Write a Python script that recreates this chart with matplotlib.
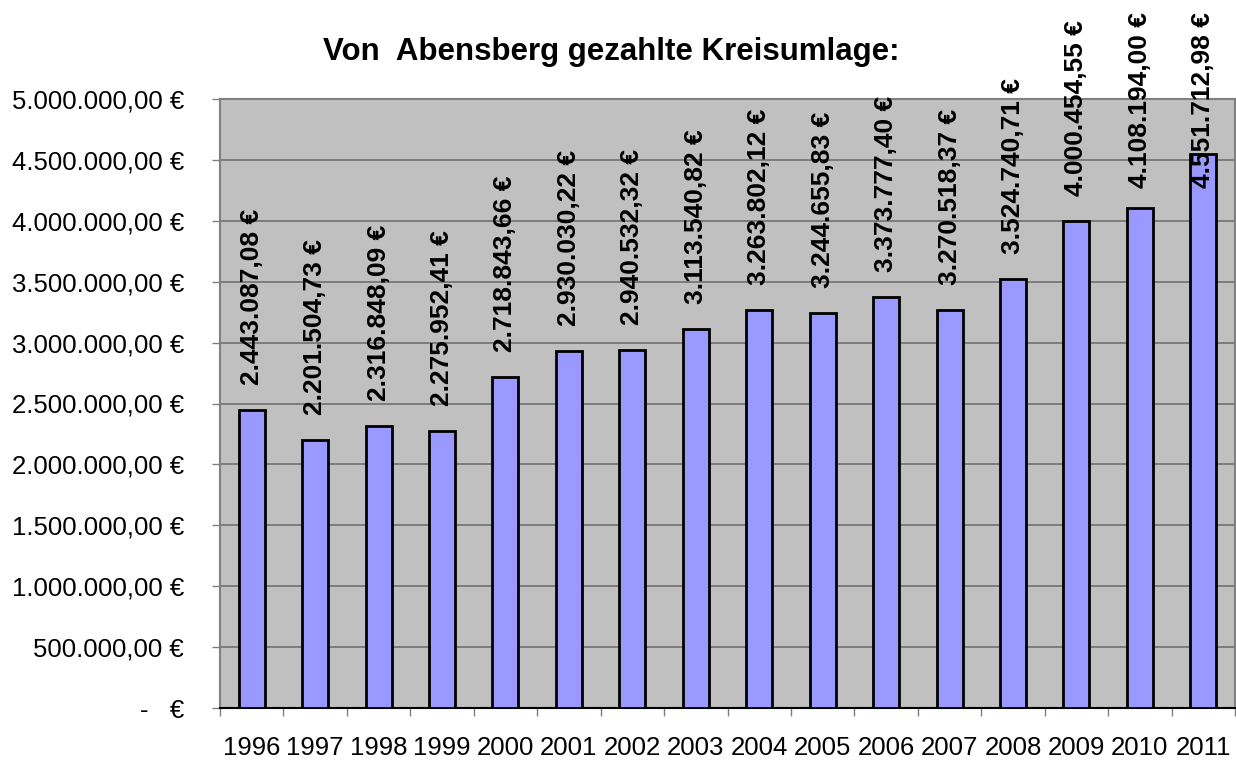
import matplotlib
matplotlib.use("Agg")
import matplotlib.pyplot as plt
from matplotlib.ticker import FuncFormatter, FixedLocator

years = ["1996", "1997", "1998", "1999", "2000", "2001", "2002", "2003",
         "2004", "2005", "2006", "2007", "2008", "2009", "2010", "2011"]
values = [2443087.08, 2201504.73, 2316848.09, 2275952.41, 2718843.66,
          2930030.22, 2940532.32, 3113540.82, 3263802.12, 3244655.83,
          3373777.40, 3270518.37, 3524740.71, 4000454.55, 4108194.00,
          4551712.98]
yticks = [0, 500000, 1000000, 1500000, 2000000, 2500000, 3000000,
          3500000, 4000000, 4500000, 5000000]
title = "Von  Abensberg gezahlte Kreisumlage:"

plt.rcParams['font.family'] = ['Liberation Sans', 'DejaVu Sans']


def de_fmt(v):
    s = f"{v:,.2f}"
    return s.replace(",", "X").replace(".", ",").replace("X", ".")


def ytick_fmt(v, pos):
    if abs(v) < 1e-6:
        return "-   €"
    return de_fmt(v) + " €"


fig = plt.figure(figsize=(12.36, 7.6), dpi=100)
ax = fig.add_axes([220 / 1236, 52 / 760, 1015 / 1236, 609 / 760])
ax.set_facecolor("#C0C0C0")

x = list(range(len(years)))
ax.bar(x, values, width=0.41, color="#9999FF", edgecolor="black",
       linewidth=2, zorder=3)

ax.set_xlim(-0.5, len(years) - 0.5)
ax.set_ylim(0, 5000000)
ax.set_yticks(yticks)
ax.yaxis.set_major_formatter(FuncFormatter(ytick_fmt))
ax.grid(axis="y", color="#707070", linewidth=1.2, zorder=1)
ax.set_axisbelow(True)

ax.set_xticks(x)
ax.set_xticklabels(years)
ax.xaxis.set_minor_locator(FixedLocator([i - 0.5 for i in range(len(years) + 1)]))
ax.tick_params(axis="x", which="major", length=0, pad=20, labelsize=18.5)
ax.tick_params(axis="x", which="minor", length=6, width=1, color="#808080",
               direction="out")
ax.tick_params(axis="y", which="major", length=6, width=1, color="#808080",
               pad=20, labelsize=18.5)

for side in ["top", "right"]:
    ax.spines[side].set_color("#808080")
    ax.spines[side].set_linewidth(1.5)
ax.spines["left"].set_color("#808080")
ax.spines["left"].set_linewidth(1.5)
ax.spines["bottom"].set_color("black")
ax.spines["bottom"].set_linewidth(1.5)

anns = []
for xi, v in zip(x, values):
    a = ax.annotate(de_fmt(v) + " €", xy=(xi, v), xytext=(0, 18),
                    textcoords="offset points", rotation=90,
                    ha="center", va="bottom", fontsize=19,
                    fontweight="bold", color="black", zorder=5,
                    annotation_clip=False)
    anns.append(a)

fig.text(611 / 1236, 1 - 52 / 760, title, ha="center", va="center",
         fontsize=22.5, fontweight="bold")

fig.canvas.draw()
renderer = fig.canvas.get_renderer()
H = fig.bbox.height
for a in anns:
    bb = a.get_window_extent(renderer)
    limit = H - 12
    if bb.y1 > limit:
        excess_pt = (bb.y1 - limit) * 72.0 / fig.dpi
        ox, oy = a.xyann
        a.xyann = (ox, oy - excess_pt)

fig.savefig("out.png", dpi=100)
